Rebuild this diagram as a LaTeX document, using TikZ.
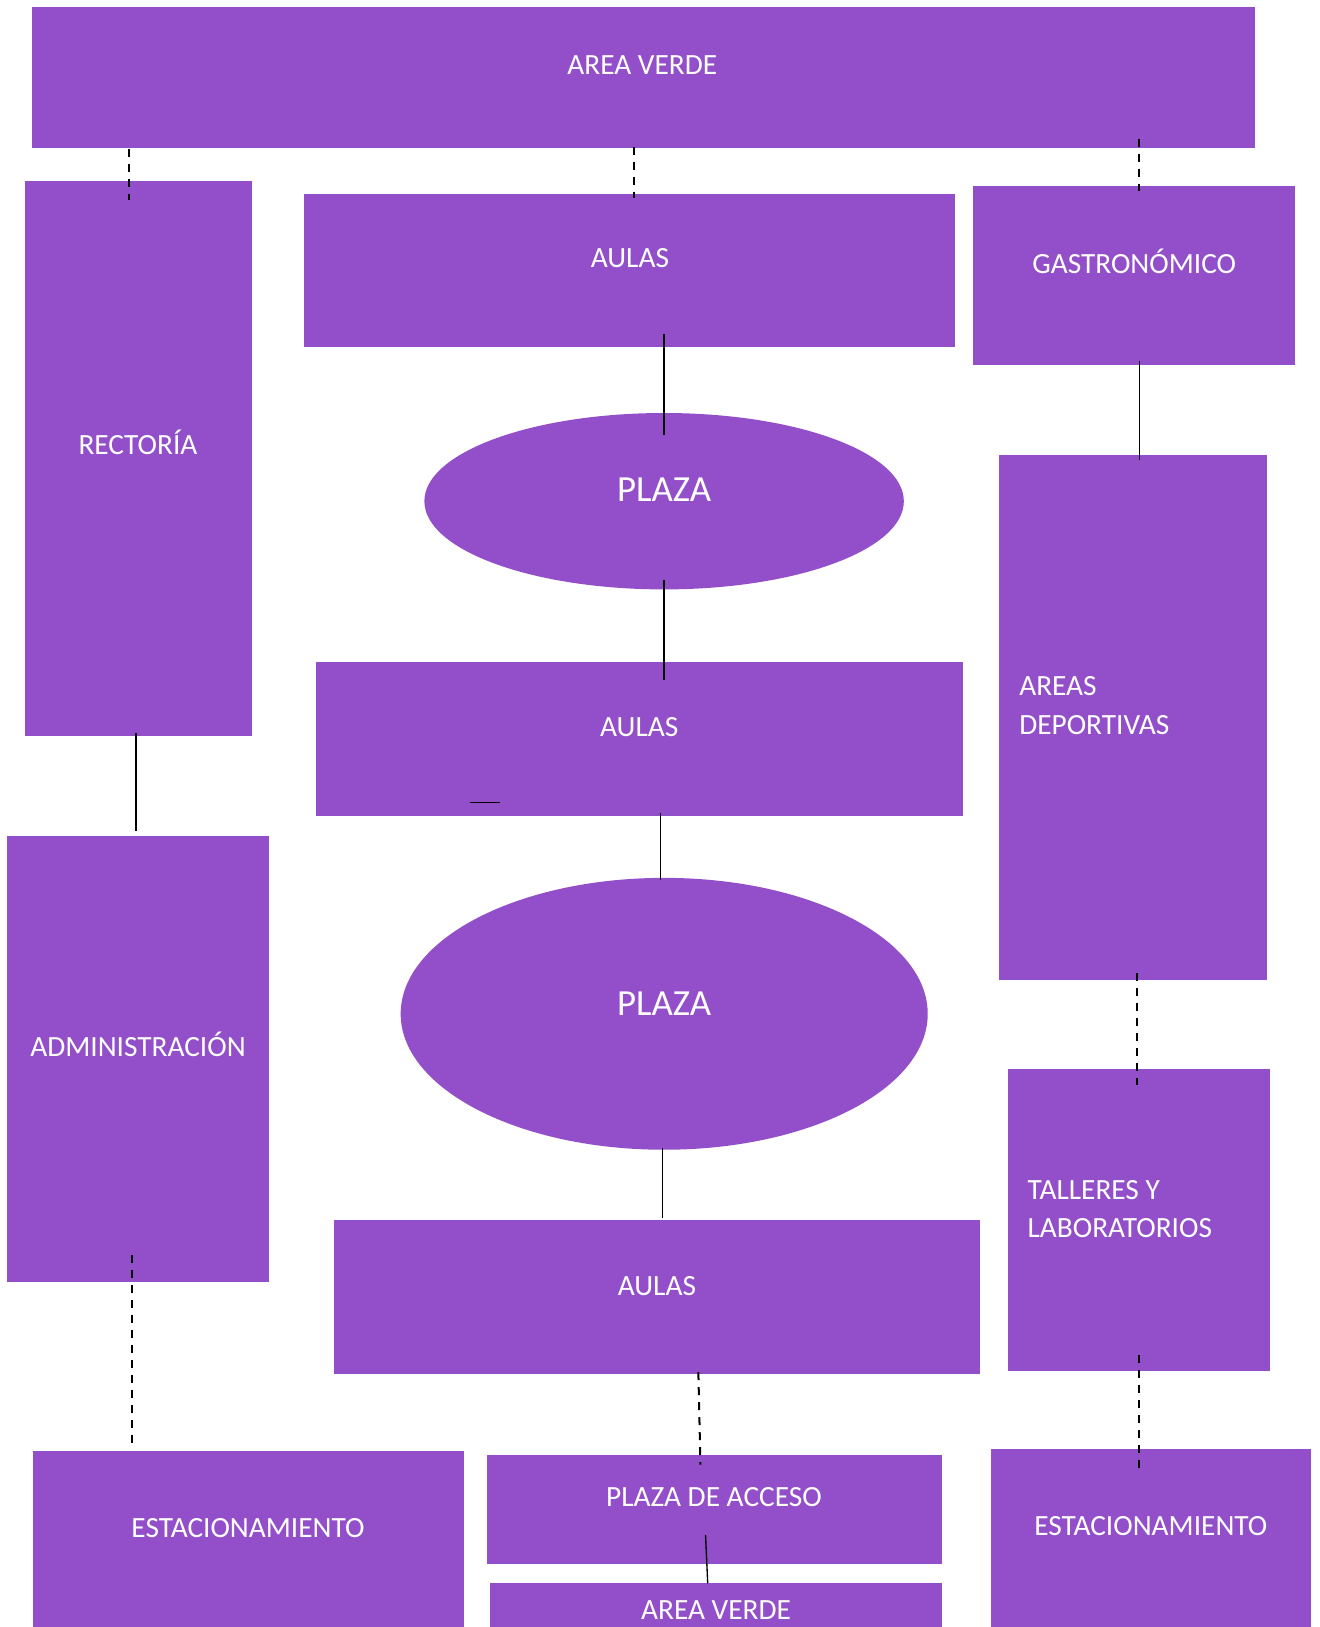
\documentclass[tikz,border=0pt]{standalone}
\usepackage{fontspec}
\setmainfont{Carlito}
\usetikzlibrary{fit,calc,shapes.geometric}
\definecolor{morado}{RGB}{147,79,201}
\tikzset{
  caja/.style={fill=morado, inner sep=0pt},
  plaza/.style={ellipse, fill=morado, inner sep=0pt},
  txt/.style={text=white, font=\fontsize{22}{28.7}\selectfont, inner sep=0pt},
  txtgrande/.style={text=white, font=\fontsize{27.6}{32}\selectfont, inner sep=0pt},
  linea/.style={black, line width=1pt},
  guion/.style={black, line width=1.5pt, dash pattern=on 6pt off 5.25pt}
}
\begin{document}
\begin{tikzpicture}[x=0.75pt,y=-0.75pt]
\useasboundingbox (0,0) rectangle (1320,1627);

% cajas
\node[caja, fit={(32.2,7.3) (1254.6,148.4)}] (verde1) {};
\node[caja, fit={(24.9,180.6) (252.2,735.7)}] (rectoria) {};
\node[caja, fit={(304.0,194.1) (954.7,346.6)}] (aulas1) {};
\node[caja, fit={(973.4,185.7) (1295.1,365.3)}] (gastro) {};
\node[plaza, minimum width=359.6pt, minimum height=132.3pt] (plaza1) at (664.1,501.2) {};
\node[caja, fit={(315.5,662.1) (963.0,815.6)}] (aulas2) {};
\node[caja, fit={(999.3,454.5) (1267.0,979.6)}] (deportivas) {};
\node[caja, fit={(7.3,836.4) (268.8,1281.6)}] (admin) {};
\node[plaza, minimum width=395.3pt, minimum height=203.9pt] (plaza2) at (664.2,1013.8) {};
\node[caja, fit={(334.1,1220.3) (979.6,1373.9)}] (aulas3) {};
\node[caja, fit={(1007.6,1068.8) (1270.1,1370.8)}] (talleres) {};
\node[caja, fit={(33.2,1450.7) (463.9,1627)}] (estac1) {};
\node[caja, fit={(486.7,1454.9) (942.2,1563.8)}] (acceso) {};
\node[caja, fit={(489.8,1582.5) (942.2,1627)}] (verde2) {};
\node[caja, fit={(991.0,1448.6) (1310.6,1627)}] (estac2) {};

% textos
\node[txt, anchor=base] (tverde1) at (642.3,74.8) {AREA VERDE};
\node[txt, anchor=base] (trectoria) at (138,454.6) {RECTORÍA};
\node[txt, anchor=base] (taulas1) at (629.9,267.8) {AULAS};
\node[txt, anchor=base] (tgastro) at (1134.2,273) {GASTRONÓMICO};
\node[txtgrande, anchor=base] (tplaza1) at (664.1,501.8) {PLAZA};
\node[txt, anchor=base] (taulas2) at (639.2,736.8) {AULAS};
\node[txt, anchor=west, align=left] (tdeportivas) at (1019,705.6) {AREAS\\DEPORTIVAS};
\node[txt, anchor=base] (tadmin) at (138,1056.3) {ADMINISTRACIÓN};
\node[txtgrande, anchor=base] (tplaza2) at (664.1,1015.5) {PLAZA};
\node[txt, anchor=base] (taulas3) at (656.9,1295.1) {AULAS};
\node[txt, anchor=west, align=left] (ttalleres) at (1027.3,1208.8) {TALLERES Y\\LABORATORIOS};
\node[txt, anchor=base] (testac1) at (248.0,1537.9) {ESTACIONAMIENTO};
\node[txt, anchor=base] (tacceso) at (713.9,1506.8) {PLAZA DE ACCESO};
\node[txt, anchor=base] (tverde2) at (716.0,1619.9) {AREA VERDE};
\node[txt, anchor=base] (testac2) at (1150.8,1535.9) {ESTACIONAMIENTO};

% conectores
\draw[guion] ($(verde1.south -| rectoria.north)+(-10,0)$) -- ($(rectoria.north)+(-10,20)$);
\draw[guion] ($(verde1.south -| aulas1.north)+(5,-2)$) -- ($(aulas1.north)+(5,4)$);
\draw[guion] ($(verde1.south -| gastro.north)+(5,-10)$) -- ($(gastro.north)+(5,6)$);
\draw[linea] ($(aulas1.south -| plaza1.north)+(0,-12.5)$) -- ($(plaza1.north)+(0,22)$);
\draw[linea] ($(gastro.south)+(5,-5)$) -- ($(deportivas.north -| gastro.south)+(5,6)$);
\draw[linea] ($(plaza1.south)+(0,-10)$) -- ($(aulas2.north -| plaza1.south)+(0,18)$);
\draw[linea] ($(rectoria.south)+(-2.6,-3)$) -- ($(admin.north -| rectoria.south)+(-2.6,-5)$);
\draw[linea] ($(aulas2.south west)+(155,-13.5)$) -- ++(30,0);
\draw[linea] ($(aulas2.south -| plaza2.north)+(-4,-3)$) -- ($(plaza2.north)+(-4,2)$);
\draw[guion] ($(deportivas.south -| talleres.north)+(-1.5,-7)$) -- ($(talleres.north)+(-1.5,16.6)$);
\draw[linea] ($(plaza2.south)+(-2,-2)$) -- ($(aulas3.north -| plaza2.south)+(-2,-2)$);
\draw[guion] ($(admin.south)+(-6,-27)$) -- ($(estac1.north -| admin.south)+(-6,-7)$);
\draw[guion] ($(aulas3.south)+(41.5,-2)$) -- ($(acceso.north)+(-14,10)$);
\draw[linea] ($(acceso.south)+(-8.9,-29)$) -- ($(verde2.north)+(-8.3,1)$);
\draw[guion] ($(talleres.south)+(0.5,-15.6)$) -- ($(estac2.north -| talleres.south)+(0.5,20.7)$);

\end{tikzpicture}
\end{document}
